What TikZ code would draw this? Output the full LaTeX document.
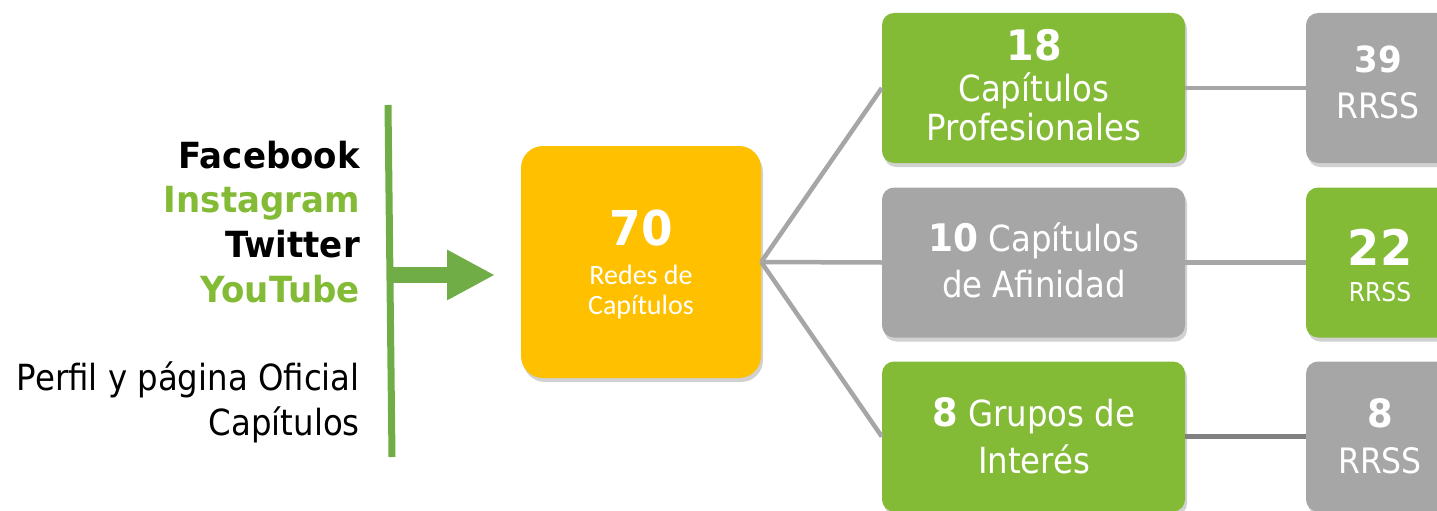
\documentclass[tikz,border=0pt]{standalone}
\usepackage{fontspec}
\setmainfont{DejaVu Sans Condensed}[BoldFeatures={FakeStretch=1.05}]
\newfontfamily\calfont{Carlito}
\usetikzlibrary{arrows.meta,shadows}
\definecolor{grn}{HTML}{83BB36}
\definecolor{lgreen}{HTML}{70AD47}
\definecolor{gry}{HTML}{A6A6A6}
\definecolor{dgry}{HTML}{808080}
\definecolor{orng}{HTML}{FFC000}
\newcommand{\fsz}[1]{\fontsize{#1}{#1}\selectfont}
\tikzset{
  shd/.style={drop shadow={shadow xshift=2pt,shadow yshift=-4pt,opacity=0.18,fill=black}},
  cbox/.style={rounded corners=12pt, minimum width=303pt, minimum height=150pt, inner sep=0pt, shd},
  rbox/.style={rounded corners=12pt, minimum width=150pt, minimum height=150pt, inner sep=0pt, shd},
  obox/.style={rounded corners=22pt, fill=orng, minimum width=240pt, minimum height=232pt, inner sep=0pt, shd},
  ltxt/.style={anchor=base east, inner sep=0pt, font=\fsz{36}},
  wt/.style={anchor=base, inner sep=0pt, text=white},
  conn/.style={gry, line width=4.5pt},
}
\begin{document}
\begin{tikzpicture}[x=1pt,y=-1pt]
\useasboundingbox (0,0) rectangle (1437,511);
\clip (0,0) rectangle (1437,511);
% left texts
\node[ltxt] (fb) at (360,168) {\bfseries Facebook};
\node[ltxt,text=grn] (ig) at (360,212) {\bfseries Instagram};
\node[ltxt] (tw) at (360,257) {\bfseries Twitter};
\node[ltxt,text=grn] (yt) at (360,302) {\bfseries YouTube};
\node[ltxt] (pf1) at (360,390) {Perfil y página Oficial};
\node[ltxt] (pf2) at (360,435) {Capítulos};
% vertical bar and arrow
\coordinate (vt) at (388,105);
\coordinate (vb) at (392,457);
\draw[lgreen, line width=7pt] (vt) -- (vb);
\coordinate (as) at (390,275);
\coordinate (ae) at (495,275);
\draw[lgreen, line width=16pt, -{Triangle[length=48pt,width=47pt]}] (as) -- (ae);
% central box
\node[obox] (c70) at (641,262) {};
\node[wt, font={\fsz{48}\bfseries}] (t70) at (641,245) {70};
\node[wt, font={\calfont\fsz{28}}] (t70a) at (641,284) {Redes de};
\node[wt, font={\calfont\fsz{28}}] (t70b) at (641,314) {Capítulos};
% middle column
\node[cbox, fill=grn] (bA) at (1033.5,88) {};
\node[cbox, fill=gry] (bB) at (1033.5,262.5) {};
\node[cbox, fill=grn] (bC) at (1033.5,436.5) {};
% right column
\node[rbox, fill=gry] (bD) at (1381,88) {};
\node[rbox, fill=grn] (bE) at (1381,262.5) {};
\node[rbox, fill=gry] (bF) at (1381,436.5) {};
% connectors
\draw[conn] (c70.east) -- (bA.west);
\draw[conn] (c70.east) -- (bB.west);
\draw[conn] (c70.east) -- (bC.west);
\draw[conn] (bA.east) -- (bD.west);
\draw[conn] (bB.east) -- (bE.west);
\draw[conn, dgry] (bC.east) -- (bF.west);
% texts middle
\node[wt, font={\fsz{42}\bfseries}] (tA1) at (1034,60) {18};
\node[wt, font=\fsz{36}] (tA2) at (1034,101.5) {Capítulos};
\node[wt, font=\fsz{36}] (tA3) at (1034,140) {Profesionales};
\node[wt, font=\fsz{36}] (tB1) at (1034,251) {{\fsz{38}\bfseries 10} Capítulos};
\node[wt, font=\fsz{36}] (tB2) at (1034,297) {de Afinidad};
\node[wt, font=\fsz{36}] (tC1) at (1034,426.5) {{\fsz{39}\bfseries 8} Grupos de};
\node[wt, font=\fsz{36}] (tC2) at (1034,473) {Interés};
% texts right
\node[wt, font={\fsz{36}\bfseries}] (tD1) at (1378,73) {39};
\node[wt, font=\fsz{35}] (tD2) at (1378,118) {RRSS};
\node[wt, font={\fsz{49}\bfseries}] (tE1) at (1380,265.5) {22};
\node[wt, font=\fsz{26}] (tE2) at (1380,301) {RRSS};
\node[wt, font={\fsz{39}\bfseries}] (tF1) at (1380,427) {8};
\node[wt, font=\fsz{35}] (tF2) at (1380,473) {RRSS};
\end{tikzpicture}
\end{document}
